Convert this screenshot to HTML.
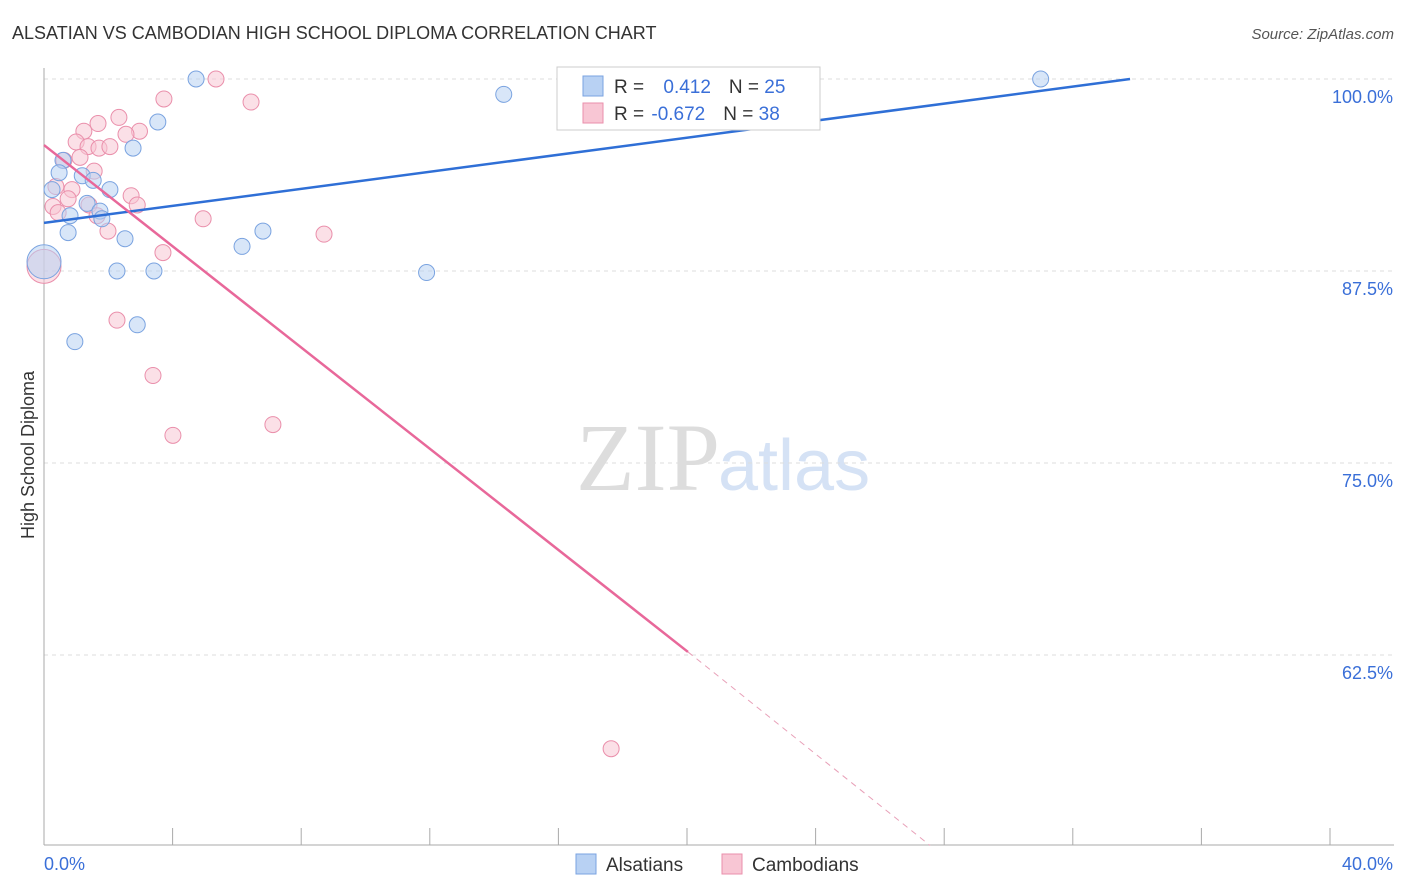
<!DOCTYPE html>
<html><head><meta charset="utf-8"><style>
body{margin:0;background:#fff;font-family:"Liberation Sans",sans-serif;}
svg{display:block}
</style></head><body>
<svg width="1406" height="892" id="c">
<text x="12" y="39" font-size="18" fill="#333">ALSATIAN VS CAMBODIAN HIGH SCHOOL DIPLOMA CORRELATION CHART</text>
<text x="1394" y="39" font-size="15" fill="#555" font-style="italic" text-anchor="end">Source: ZipAtlas.com</text>
<text x="720" y="490" font-size="96" font-family="Liberation Serif,serif" fill="#ddd" text-anchor="end">ZIP</text>
<text x="718" y="490" font-size="72" fill="#d5e2f5">atlas</text>
<text transform="translate(34,455) rotate(-90)" font-size="18" fill="#333" text-anchor="middle">High School Diploma</text>
<g id="grid"></g><g id="marks"></g>
<g>
<rect x="557" y="67" width="263" height="63" fill="#fff" stroke="#ccc"/>
<rect x="583" y="76" width="20" height="20" fill="#b8d1f3" stroke="#7aa3e0"/>
<rect x="583" y="103" width="20" height="20" fill="#f8c6d4" stroke="#ea8fab"/>
<text x="614" y="93" font-size="19" fill="#333">R = <tspan fill="#3a6fd8" dx="14">0.412</tspan><tspan dx="18" fill="#333">N = </tspan><tspan fill="#3a6fd8">25</tspan></text>
<text x="614" y="120" font-size="19" fill="#333">R = <tspan fill="#3a6fd8" dx="2">-0.672</tspan><tspan dx="18" fill="#333">N = </tspan><tspan fill="#3a6fd8">38</tspan></text>
</g>
<g>
<rect x="576" y="854" width="20" height="20" fill="#b8d1f3" stroke="#7aa3e0"/>
<text x="606" y="871" font-size="19" fill="#333">Alsatians</text>
<rect x="722" y="854" width="20" height="20" fill="#f8c6d4" stroke="#ea8fab"/>
<text x="752" y="871" font-size="19" fill="#333">Cambodians</text>
</g>
</svg>
<script>
const xTicks=[0,40];
const yTicks=[100,87.5,75,62.5];
const blueX=[4.73,14.3,31.0,3.54,2.77,0.59,0.47,1.19,1.53,0.25,2.05,1.34,1.74,0.81,1.8,0.75,2.52,6.16,6.81,0,2.27,3.42,11.9,2.9,0.96];
const blueY=[100,99.0,100,97.2,95.5,94.7,93.9,93.7,93.4,92.8,92.8,91.9,91.4,91.1,90.9,90.0,89.6,89.1,90.1,88.1,87.5,87.5,87.4,84.0,82.9];
const pinkX=[5.35,3.73,6.44,2.33,1.68,1.24,2.97,2.55,1.0,1.37,1.71,2.05,1.12,0.62,1.56,0.37,0.87,2.71,0.75,1.4,2.9,0.28,0.44,1.65,4.95,1.99,8.71,3.7,0,2.27,3.39,7.12,4.01,17.64];
const pinkY=[100,98.7,98.5,97.5,97.1,96.6,96.6,96.4,95.9,95.6,95.5,95.6,94.9,94.7,94.0,93.0,92.8,92.4,92.2,91.8,91.8,91.7,91.3,91.1,90.9,90.1,89.9,88.7,87.8,84.3,80.7,77.5,76.8,56.4];
const blueTrend=[[0,90.63],[33.78,100]];
const pinkTrend=[[0,95.7],[20.03,62.7]];
const pinkDash=[[20.03,62.7],[27.56,50.1]];
const X=v=>44+v*32.15, Y=v=>79+(100-v)*15.36;
const NS="http://www.w3.org/2000/svg";
function mk(t,a,p){const e=document.createElementNS(NS,t);for(const k in a)e.setAttribute(k,a[k]);p.appendChild(e);return e;}
const g=document.getElementById('grid'),m=document.getElementById('marks');
yTicks.forEach(v=>{
 const l=mk('line',{x1:44,x2:1394,y1:Y(v),y2:Y(v),stroke:'#ddd','stroke-dasharray':'4,4'},g);
 
 
 const t=mk('text',{x:1393,y:Y(v)+24,'font-size':18,fill:'#3a6fd8','text-anchor':'end'},g);
 t.textContent=v.toFixed(1)+'%';
 
 
});
mk('line',{x1:44,x2:44,y1:68,y2:845,stroke:'#aaa'},g);
mk('line',{x1:44,x2:1394,y1:845,y2:845,stroke:'#aaa'},g);
for(let i=1;i<=10;i++){const x=X(i*4);mk('line',{x1:x,x2:x,y1:828,y2:845,stroke:'#aaa'},g);}
xTicks.forEach((v,i)=>{
 const t=mk('text',{x:i?1393:44,y:870,'font-size':18,fill:'#3a6fd8','text-anchor':i?'end':'start'},g);
 t.textContent=v.toFixed(1)+'%';
 
 
});
function pts(xs,ys,fill,stroke,name){xs.forEach((x,i)=>{
 const r=(x===0)?17:8;
 const c=mk('circle',{cx:X(x),cy:Y(ys[i]),r:r,fill:fill,'fill-opacity':0.55,stroke:stroke,'stroke-width':1},m);
 
 
});}
pts(pinkX,pinkY,'#f8c6d4','#ea8fab','cambodian-point');
pts(blueX,blueY,'#b8d1f3','#7aa3e0','alsatian-point');
function ln(d,st,dash,name){const l=mk('line',{x1:X(d[0][0]),y1:Y(d[0][1]),x2:X(d[1][0]),y2:Y(d[1][1]),stroke:st,'stroke-width':dash?1:2.5},m);if(dash)l.setAttribute('stroke-dasharray','6,5');
 
 }
ln(blueTrend,'#2f6fd6',false,'alsatian-trendline');
ln(pinkTrend,'#e8689a',false,'cambodian-trendline');
ln(pinkDash,'#e8a0b8',true,'cambodian-trendline-extension');
</script>
</body></html>
